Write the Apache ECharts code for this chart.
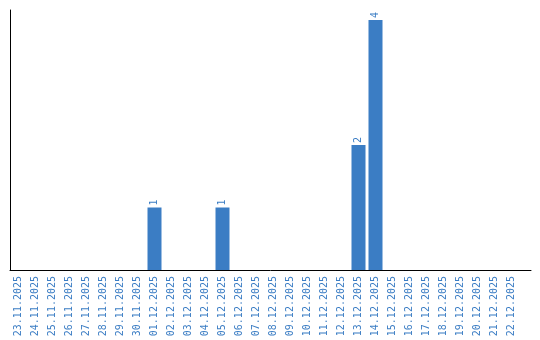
<!DOCTYPE html>
<html><head><meta charset="utf-8">
<script src="https://cdn.jsdelivr.net/npm/echarts@6/dist/echarts.min.js"></script>
<style>html,body{margin:0;padding:0;background:#fff}#c{width:540px;height:340px}</style>
</head><body><div id="c"></div>
<script>
var categories = ["23.11.2025","24.11.2025","25.11.2025","26.11.2025","27.11.2025","28.11.2025","29.11.2025","30.11.2025","01.12.2025","02.12.2025","03.12.2025","04.12.2025","05.12.2025","06.12.2025","07.12.2025","08.12.2025","09.12.2025","10.12.2025","11.12.2025","12.12.2025","13.12.2025","14.12.2025","15.12.2025","16.12.2025","17.12.2025","18.12.2025","19.12.2025","20.12.2025","21.12.2025","22.12.2025"];
var values = [null,null,null,null,null,null,null,null,1,null,null,null,1,null,null,null,null,null,null,null,2,4,null,null,null,null,null,null,null,null];
var blue = '#3b7dc4';
var font = 'DejaVu Sans Mono';
var chart = echarts.init(document.getElementById('c'), null, {renderer:'canvas'});
chart.setOption({
  animation:false,
  grid:[
    {left:10, top:10, width:510, bottom:70, containLabel:false, outerBoundsMode:'none'},
    {left:10, top:10, right:9, bottom:70, containLabel:false, outerBoundsMode:'none'}
  ],
  xAxis:[{
    type:'category', data:categories, gridIndex:0,
    axisLine:{show:false}, axisTick:{show:false},
    axisLabel:{rotate:90, interval:0, margin:6, color:blue, fontFamily:font, fontSize:10}
  },{
    type:'value', gridIndex:1, min:0, max:1,
    axisLine:{show:true, lineStyle:{color:'#000', width:1}}, axisTick:{show:false}, axisLabel:{show:false}, splitLine:{show:false}
  }],
  yAxis:[{
    type:'value', gridIndex:0, min:0, max:4.16,
    axisLine:{show:true, lineStyle:{color:'#000', width:1}}, axisTick:{show:false}, axisLabel:{show:false}, splitLine:{show:false}
  },{
    type:'value', gridIndex:1, show:false, min:0, max:1
  }],
  series:[{
    type:'bar', data:values, barWidth:14, xAxisIndex:0, yAxisIndex:0,
    itemStyle:{color:blue},
    label:{show:true, position:'top', rotate:90, align:'left', verticalAlign:'middle', distance:2, color:blue, fontFamily:font, fontSize:10}
  }]
});
</script></body></html>
